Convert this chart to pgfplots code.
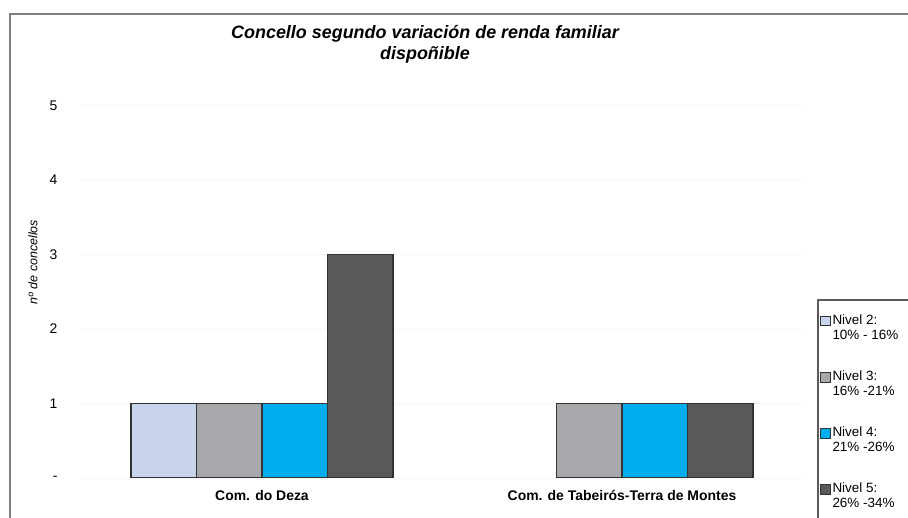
\documentclass[border=0pt]{standalone}
\usepackage{pgfplots}
\pgfplotsset{compat=1.18}
\usepackage{fontspec}
\setmainfont{Liberation Sans}
\definecolor{cA}{HTML}{C7D4EB}
\definecolor{cB}{HTML}{A7A8AC}
\definecolor{cC}{HTML}{00AEEF}
\definecolor{cD}{HTML}{58595B}
\definecolor{edge}{HTML}{333333}
\definecolor{frame}{HTML}{808080}
\definecolor{legframe}{HTML}{5A5A5A}
\definecolor{gridc}{HTML}{F6F6F6}
\begin{document}
\begin{tikzpicture}[x=1bp,y=1bp]
\begin{axis}[
  at={(82bp,40bp)}, anchor=south west,
  scale only axis, width=720bp, height=372.5bp,
  xmin=-0.5, xmax=1.5, ymin=0, ymax=5,
  axis line style={draw=none},
  tick style={draw=none},
  major tick length=0pt,
  ymajorgrids, grid style={color=gridc, line width=0.8bp},
  xtick={0,1},
  xticklabels={Com. do Deza, Com. de Tabeirós-Terra de Montes},
  ytick={0,1,2,3,4,5},
  yticklabels={-,1,2,3,4,5},
  xticklabel style={font=\bfseries\fontsize{14}{16}\selectfont, yshift=-9bp},
  yticklabel style={font=\fontsize{14}{16}\selectfont, xshift=-21bp},
  mybar/.style={ybar, bar width=0.182, draw=edge, line width=1.3bp,
     legend image code/.code={\draw[##1, line width=0.8bp] (0bp,2bp) rectangle (9.5bp,11.5bp);}},
  legend style={at={(1.025,0.4443)}, anchor=north west, draw=none, fill=none,
     inner xsep=0pt, inner ysep=0pt, align=left,
     font=\fontsize{13.5}{15}\selectfont, row sep=26bp,
     /tikz/every even column/.append style={column sep=3bp}},
  legend cell align=left,
]
\addplot[mybar, fill=cA, bar shift=-0.273] coordinates {(0,1)};
\addlegendentry{Nivel 2:\\10\% - 16\%}
\addplot[mybar, fill=cB, bar shift=-0.091] coordinates {(0,1) (1,1)};
\addlegendentry{Nivel 3:\\16\% -21\%}
\addplot[mybar, fill=cC, bar shift=0.091] coordinates {(0,1) (1,1)};
\addlegendentry{Nivel 4:\\21\% -26\%}
\addplot[mybar, fill=cD, bar shift=0.273] coordinates {(0,3) (1,1)};
\addlegendentry{Nivel 5:\\26\% -34\%}
\end{axis}
\draw[color=frame, line width=2bp] (10,-5) -- (10,504) -- (913,504);
\draw[color=legframe, line width=1.3bp] (818,-5) -- (818,218) -- (913,218);
\node[font=\bfseries\itshape\fontsize{18}{21}\selectfont, anchor=base] at (425,479) {Concello segundo variación de renda familiar};
\node[font=\bfseries\itshape\fontsize{18}{21}\selectfont, anchor=base] at (425,458) {dispoñible};
\node[rotate=90, font=\itshape\fontsize{12.5}{14}\selectfont] at (33,256) {nº de concellos};
\pgfresetboundingbox
\useasboundingbox (0,0) rectangle (908,518);
\end{tikzpicture}
\end{document}
